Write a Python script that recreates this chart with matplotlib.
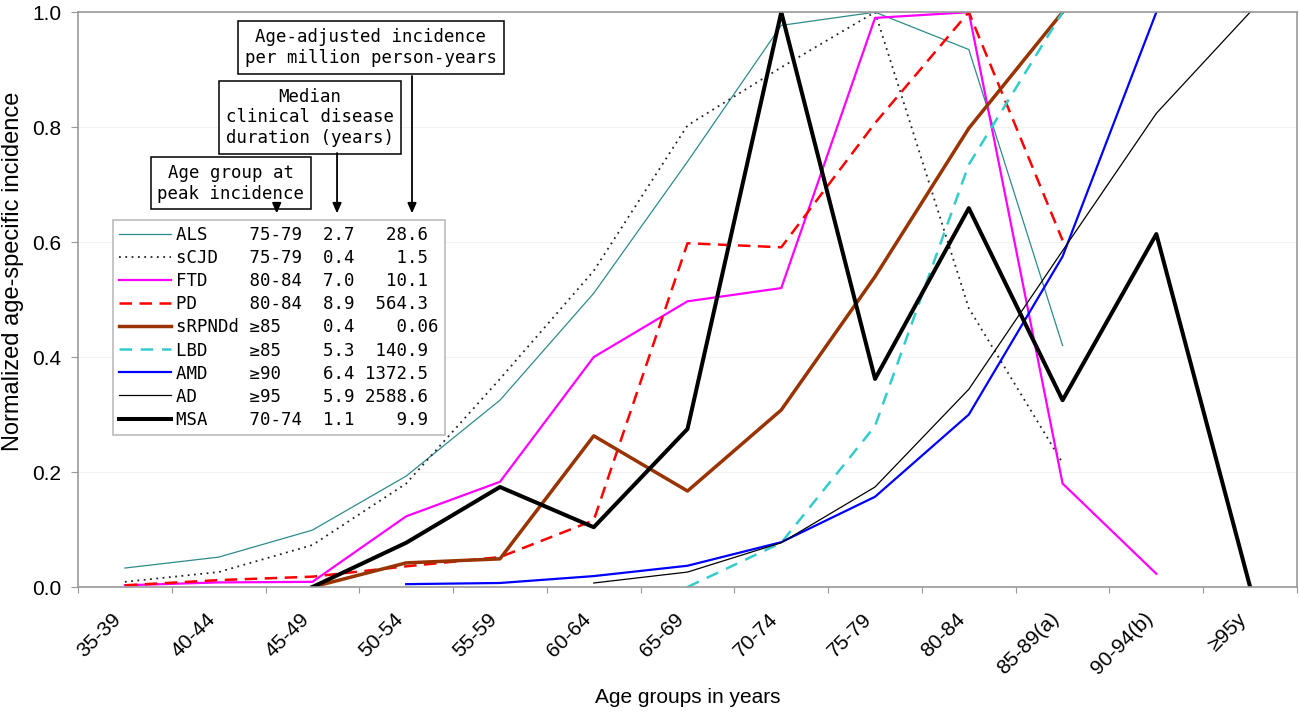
import numpy as np
import matplotlib
matplotlib.use("Agg")
import matplotlib.pyplot as plt
from matplotlib import transforms

plt.rcParams['font.family'] = ['Liberation Sans', 'DejaVu Sans']

nan = np.nan

age_groups = ['35-39', '40-44', '45-49', '50-54', '55-59', '60-64', '65-69',
              '70-74', '75-79', '80-84', '85-89(a)', '90-94(b)', '\u226595y']

ALS = [0.033, 0.052, 0.099, 0.193, 0.325, 0.511, 0.74, 0.977, 1.0, 0.935, 0.42, nan, nan]
sCJD = [0.009, 0.026, 0.073, 0.18, 0.362, 0.55, 0.803, 0.904, 1.0, 0.485, 0.216, nan, nan]
FTD = [0.003, 0.008, 0.009, 0.123, 0.183, 0.40, 0.497, 0.52, 0.99, 1.0, 0.18, 0.023, nan]
PD = [0.003, 0.012, 0.018, 0.036, 0.052, 0.116, 0.598, 0.591, 0.807, 1.0, 0.603, nan, nan]
sRPNDd = [nan, nan, 0.0, 0.042, 0.049, 0.263, 0.167, 0.308, 0.54, 0.798, 1.0, nan, nan]
LBD = [nan, nan, nan, nan, nan, nan, 0.0, 0.077, 0.28, 0.735, 1.0, nan, nan]
AMD = [nan, nan, nan, 0.005, 0.007, 0.019, 0.037, 0.078, 0.157, 0.30, 0.575, 1.0, nan]
AD = [nan, nan, nan, nan, nan, 0.007, 0.026, 0.077, 0.174, 0.344, 0.585, 0.824, 1.0]
MSA = [nan, nan, 0.0, 0.077, 0.174, 0.104, 0.275, 1.0, 0.362, 0.659, 0.325, 0.614, 0.0]

names = ['ALS', 'sCJD', 'FTD', 'PD', 'sRPNDd', 'LBD', 'AMD', 'AD', 'MSA']
peak_age = ['75-79', '75-79', '80-84', '80-84', '\u226585', '\u226585', '\u226590', '\u226595', '70-74']
duration = ['2.7', '0.4', '7.0', '8.9', '0.4', '5.3', '6.4', '5.9', '1.1']
incidence = ['28.6', '1.5', '10.1', '564.3', '0.06', '140.9', '1372.5', '2588.6', '9.9']

series = [ALS, sCJD, FTD, PD, sRPNDd, LBD, AMD, AD, MSA]
styles = [
    dict(color='#2E8B8B', lw=0.9, ls='-'),
    dict(color='#222222', lw=1.3, ls=(0, (1, 2.5))),
    dict(color='#FF00FF', lw=1.6, ls='-'),
    dict(color='#FF0000', lw=1.8, ls=(0, (5, 3))),
    dict(color='#993300', lw=2.5, ls='-'),
    dict(color='#33CCCC', lw=1.8, ls=(0, (5, 3.5))),
    dict(color='#0000FF', lw=1.6, ls='-'),
    dict(color='#000000', lw=0.9, ls='-'),
    dict(color='#000000', lw=2.9, ls='-'),
]

mono = ['DejaVu Sans Mono', 'DejaVu Sans']
mono_size = 12.5

fig = plt.figure(figsize=(13, 7.15), dpi=100)
ax = fig.add_axes([0.06, 0.179, 0.9377, 0.804])

x = np.arange(len(age_groups))
for name, vals, st, age, dur, inc in zip(names, series, styles, peak_age, duration, incidence):
    ip, dp = inc.split('.')
    label = f"{name:<7}{age:<7}{dur} {ip:>4}.{dp:<2}"
    ax.plot(x, vals, label=label, **st)

ax.set_xlim(-0.5, len(age_groups) - 0.5)
ax.set_ylim(0, 1)
ax.set_yticks(np.arange(0, 1.01, 0.2))
ax.set_yticklabels([f"{v:.1f}" for v in np.arange(0, 1.01, 0.2)])
ax.yaxis.grid(True, color='#F2F2F2', lw=0.8)
ax.set_axisbelow(True)

# tick marks at category borders, labels at category centers
ax.set_xticks(np.arange(-0.5, len(age_groups), 1))
ax.set_xticklabels([])
ax.set_xticks(x, minor=True)
ax.set_xticklabels(age_groups, minor=True, rotation=45, ha='right', va='top',
                   rotation_mode='anchor', fontsize=15)
ax.tick_params(axis='x', which='major', length=4, color='#999999', direction='out')
ax.tick_params(axis='x', which='minor', length=0, pad=16)
ax.tick_params(axis='y', length=5, color='#999999', labelsize=15, pad=7)
shift = transforms.ScaledTranslation(-0.13, 0, fig.dpi_scale_trans)
for lab in ax.get_xticklabels(minor=True):
    lab.set_transform(lab.get_transform() + shift)

for sp in ax.spines.values():
    sp.set_color('#999999')
    sp.set_linewidth(1.2)

ax.set_xlabel('Age groups in years', fontsize=15)
ax.xaxis.set_label_coords(0.5, -0.176)
ax.set_ylabel('Normalized age-specific incidence', fontsize=17)
ax.yaxis.set_label_coords(-0.044, 0.549)

leg = ax.legend(loc='upper left', bbox_to_anchor=(0.0287, 0.638), borderaxespad=0,
                prop={'family': mono, 'size': mono_size}, fancybox=False,
                edgecolor='#BBBBBB', framealpha=1, handlelength=3.0,
                handletextpad=0.3, labelspacing=0.29, borderpad=0.35)
leg.get_frame().set_linewidth(1.2)

# header boxes with arrows pointing at the legend columns
box = dict(boxstyle='square,pad=0.4', fc='white', ec='black', lw=1.1)
ax.text(0.240, 0.939, 'Age-adjusted incidence\nper million person-years',
        transform=ax.transAxes, ha='center', va='center', family=mono,
        fontsize=mono_size, bbox=box, zorder=6)
ax.text(0.190, 0.817, 'Median\nclinical disease\nduration (years)',
        transform=ax.transAxes, ha='center', va='center', family=mono,
        fontsize=mono_size, bbox=box, zorder=6)
ax.text(0.1255, 0.7026, 'Age group at\npeak incidence',
        transform=ax.transAxes, ha='center', va='center', family=mono,
        fontsize=mono_size, bbox=box, zorder=6)

arrow = dict(arrowstyle='-|>,head_length=0.5,head_width=0.22', color='black',
             lw=1.3, shrinkA=0, shrinkB=0, mutation_scale=12)
for ax_x, y0 in [(0.274, 0.889), (0.2125, 0.755), (0.163, 0.662)]:
    ax.annotate('', xy=(ax_x, 0.650), xytext=(ax_x, y0), xycoords='axes fraction',
                textcoords='axes fraction', arrowprops=arrow, zorder=6)

fig.savefig('out.png', dpi=100)
